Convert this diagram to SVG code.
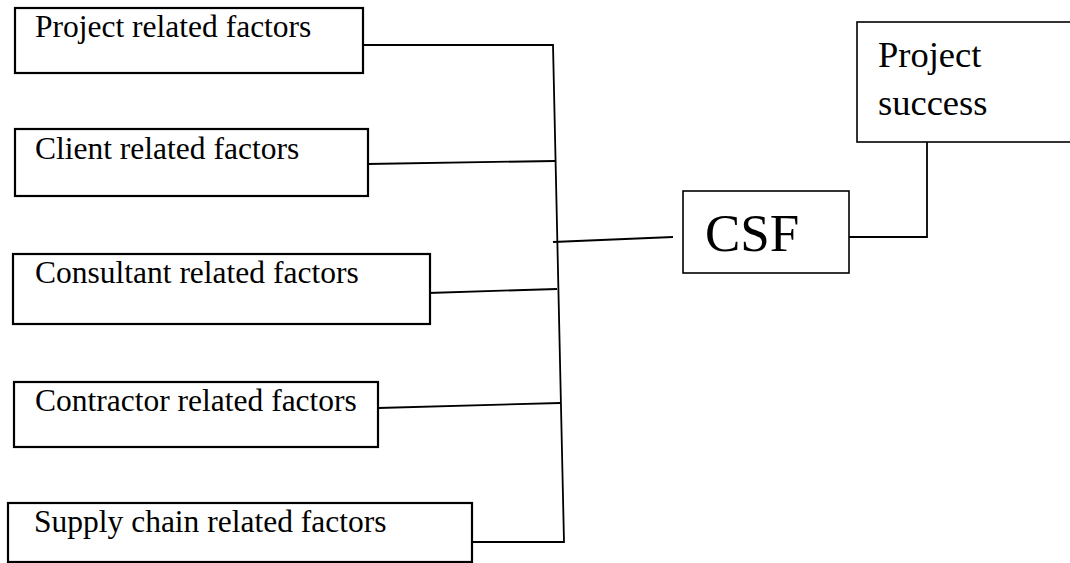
<svg xmlns="http://www.w3.org/2000/svg" width="1070" height="563" viewBox="0 0 1070 563">
<style>
.box{fill:#fff;stroke:#000;stroke-width:2.2}
.box2{fill:#fff;stroke:#000;stroke-width:1.6}
.lbl{font-family:"Liberation Serif","Times New Roman",serif;font-size:31.5px;fill:#000}
.big{font-family:"Liberation Serif","Times New Roman",serif;font-size:36.5px;fill:#000}
.csf{font-family:"Liberation Serif","Times New Roman",serif;font-size:53px;fill:#000}
.con{fill:none;stroke:#000;stroke-width:1.8}
</style>
<rect width="1070" height="563" fill="#fff"/>
<g id="connectors">
<polyline class="con" points="363,45 553,45 564,542 472,542"/>
<line class="con" x1="367" y1="164" x2="555" y2="161"/>
<line class="con" x1="428" y1="293" x2="557" y2="289"/>
<line class="con" x1="378" y1="408" x2="560" y2="403"/>
<line class="con" x1="553" y1="242" x2="673" y2="237"/>
<polyline class="con" points="849,237 927,237 927,142"/>
</g>
<g id="n1"><rect class="box" x="15" y="8" width="348" height="65"/><text class="lbl" x="35" y="37">Project related factors</text></g>
<g id="n2"><rect class="box" x="15" y="129" width="353" height="67"/><text class="lbl" x="35" y="159">Client related factors</text></g>
<g id="n3"><rect class="box" x="13" y="254" width="417" height="70"/><text class="lbl" x="35" y="283">Consultant related factors</text></g>
<g id="n4"><rect class="box" x="14" y="382" width="364" height="65"/><text class="lbl" x="35" y="411">Contractor related factors</text></g>
<g id="n5"><rect class="box" x="8" y="503" width="464" height="59"/><text class="lbl" x="34" y="532">Supply chain related factors</text></g>
<g id="csf"><rect class="box2" x="683" y="191" width="166" height="82"/><text class="csf" x="705" y="251">CSF</text></g>
<g id="ps"><rect class="box2" x="857" y="22" width="220" height="120"/><text class="big" x="878" y="67">Project</text><text class="big" x="878" y="115">success</text></g>
</svg>
